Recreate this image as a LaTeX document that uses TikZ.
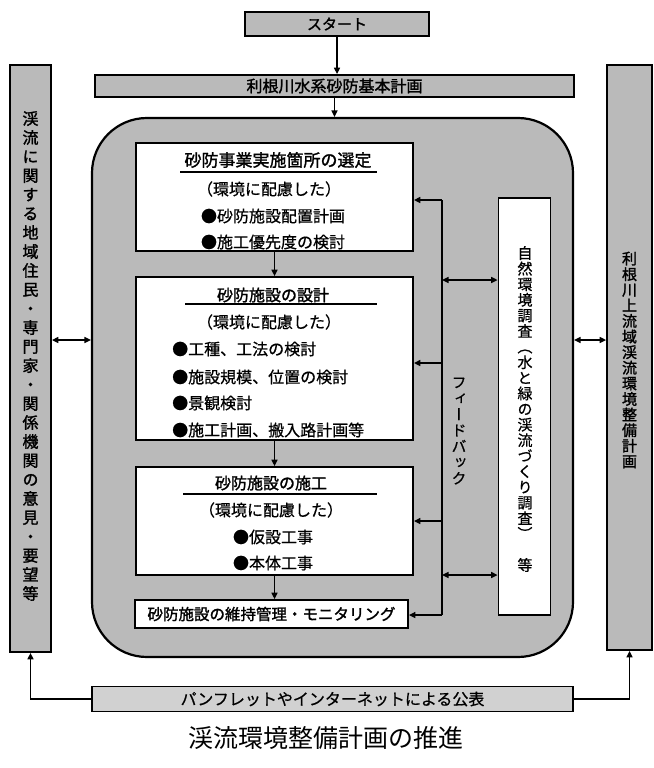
\documentclass[tikz,border=0pt]{standalone}
\usepackage{fontspec}
\setmainfont{Noto Sans CJK JP}[AutoFakeBold=1.6]
\newfontfamily\jpm{Noto Sans CJK JP}[FakeBold=0.7]
\newfontfamily\jpv{Noto Sans CJK JP}[RawFeature=+vert,AutoFakeBold=1.6]
\newfontfamily\jpvm{Noto Sans CJK JP}[RawFeature=+vert,FakeBold=0.7]
\usetikzlibrary{arrows.meta}
\makeatletter
\def\vt@end{\vt@end}
\def\vt@a#1{\ifx#1\vt@end\else\hbox to 1em{\hss#1\hss}\expandafter\vt@a\fi}
\newcommand\vtext[2]{\vbox{\baselineskip=#1\lineskiplimit=-100pt\lineskip=0pt\vt@a#2\vt@end}}
\makeatother
\begin{document}
\begin{tikzpicture}[x=1pt,y=-1pt,
  shaded/.style={draw=black, line width=1.8pt, fill=black!27, inner sep=0pt},
  wbox/.style={draw=black, line width=1.8pt, fill=white, inner sep=0pt},
  arr/.style={line width=1.4pt, -{Triangle[length=6.5pt,width=6pt]}},
  barr/.style={line width=1.4pt, {Triangle[length=6.5pt,width=6pt]}-{Triangle[length=6.5pt,width=6pt]}},
  lbl/.style={inner sep=0pt, font=\jpm\fontsize{16}{16}\selectfont},
  ttl/.style={inner sep=0pt, font=\bfseries\fontsize{16}{16}\selectfont},
  vlbl/.style={inner sep=0pt}
]
\useasboundingbox (0,0) rectangle (653,768);
\fill[white] (0,0) rectangle (653,768);

% top
\node[shaded, minimum width=184pt, minimum height=24pt] (start) at (337,24) {\bfseries\fontsize{15}{15}\selectfont スタート};
\node[shaded, minimum width=479pt, minimum height=22pt] (plan) at (334.5,86) {\bfseries\fontsize{16}{16}\selectfont 利根川水系砂防基本計画};

% side boxes
\node[shaded, minimum width=41pt, minimum height=587pt] (lbox) at (30.5,358.5) {};
\node[shaded, minimum width=45pt, minimum height=585pt] (rbox) at (629.5,357.5) {};
\node[vlbl, font=\jpv\bfseries\fontsize{16}{16}\selectfont] (ltxt) at (30.5,356) {\vtext{19pt}{渓流に関する地域住民・専門家・関係機関の意見・要望等}};
\node[vlbl, font=\jpv\bfseries\fontsize{15}{15}\selectfont] (rtxt) at (629.5,360) {\vtext{15.6pt}{利根川上流域渓流環境整備計画}};

% region
\node[shaded, line width=2.2pt, rounded corners=55pt, minimum width=481pt, minimum height=539pt] (region) at (332.5,387.5) {};

% inner boxes
\node[wbox, minimum width=277pt, minimum height=108pt] (b1) at (274.5,197) {};
\node[wbox, minimum width=277pt, minimum height=163pt] (b2) at (274.5,358.5) {};
\node[wbox, minimum width=277pt, minimum height=108pt] (b3) at (274.5,521) {};
\node[wbox, minimum width=273pt, minimum height=28pt, font=\bfseries\fontsize{15.5}{15.5}\selectfont] (b4) at (271.5,614) {砂防施設の維持管理・モニタリング};
\node[wbox, minimum width=52pt, minimum height=417pt] (nat) at (524.5,406.5) {};
\node[vlbl, font=\jpvm\fontsize{15}{15}\selectfont] (ntxt) at (525,409) {\vtext{15.6pt}{自然環境調査（水と緑の渓流づくり調査）　等}};

% box 1 texts
\node[ttl, font=\bfseries\fontsize{17}{17}\selectfont] (b1t) at (278,160) {砂防事業実施箇所の選定};
\draw[line width=1.4pt] (180,172) -- (377,172);
\node[lbl] (b1a) at (269,189) {（環境に配慮した）};
\node[lbl] (b1b) at (273,216) {●砂防施設配置計画};
\node[lbl] (b1c) at (273,242) {●施工優先度の検討};

% box 2 texts
\node[ttl] (b2t) at (273,295) {砂防施設の設計};
\draw[line width=1.4pt] (185,304) -- (377,304);
\node[lbl] (b2a) at (269,322) {（環境に配慮した）};
\node[lbl, anchor=west] (b2b) at (172,349) {●工種、工法の検討};
\node[lbl, anchor=west] (b2c) at (172,377) {●施設規模、位置の検討};
\node[lbl, anchor=west] (b2d) at (172,403) {●景観検討};
\node[lbl, anchor=west] (b2e) at (172,430) {●施工計画、搬入路計画等};

% box 3 texts
\node[ttl] (b3t) at (271,483) {砂防施設の施工};
\draw[line width=1.4pt] (183,494) -- (377,494);
\node[lbl] (b3a) at (271,510) {（環境に配慮した）};
\node[lbl] (b3b) at (273,537) {●仮設工事};
\node[lbl] (b3c) at (273,563) {●本体工事};

% feedback
\node[vlbl, font=\jpvm\fontsize{15}{15}\selectfont] (fbtxt) at (459,431) {\vtext{16pt}{フィードバック}};
\coordinate (fb1) at (442,200);
\coordinate (fbA) at (442,280);
\coordinate (fb2) at (442,363);
\coordinate (fb3) at (442,521);
\coordinate (fbB) at (442,575);
\coordinate (fb4) at (442,615);
\draw[line width=1.4pt] (fb1) -- (fb4);
\draw[arr] (fb1) -- (b1.east |- fb1);
\draw[arr] (fb2) -- (b2.east |- fb2);
\draw[arr] (fb3) -- (b3.east |- fb3);
\draw[arr] (fb4) -- (b4.east |- fb4);
\draw[barr] (fbA) -- (nat.west |- fbA);
\draw[barr] (fbB) -- (nat.west |- fbB);

% vertical flow
\draw[arr] (start.south) -- (start.south |- plan.north);
\draw[arr] (plan.south) -- (plan.south |- region.north);
\draw[arr] (b1.south) -- (b2.north);
\draw[arr] (b2.south) -- (b3.north);
\draw[arr] (b3.south) -- (b3.south |- b4.north);

% side links
\coordinate (ymid) at (0,340);
\draw[barr] (lbox.east |- ymid) -- (region.west |- ymid);
\draw[barr] (region.east |- ymid) -- (rbox.west |- ymid);

% bottom
\node[shaded, fill=black!18, minimum width=481pt, minimum height=25pt, font=\jpm\fontsize{16}{16}\selectfont] (pub) at (332.5,699) {パンフレットやインターネットによる公表};
\draw[arr] (pub.west) -| (lbox.south);
\draw[arr] (pub.east) -| (rbox.south);
\node[inner sep=0pt, font=\fontsize{25}{25}\selectfont] (title) at (326,738) {渓流環境整備計画の推進};
\end{tikzpicture}
\end{document}
